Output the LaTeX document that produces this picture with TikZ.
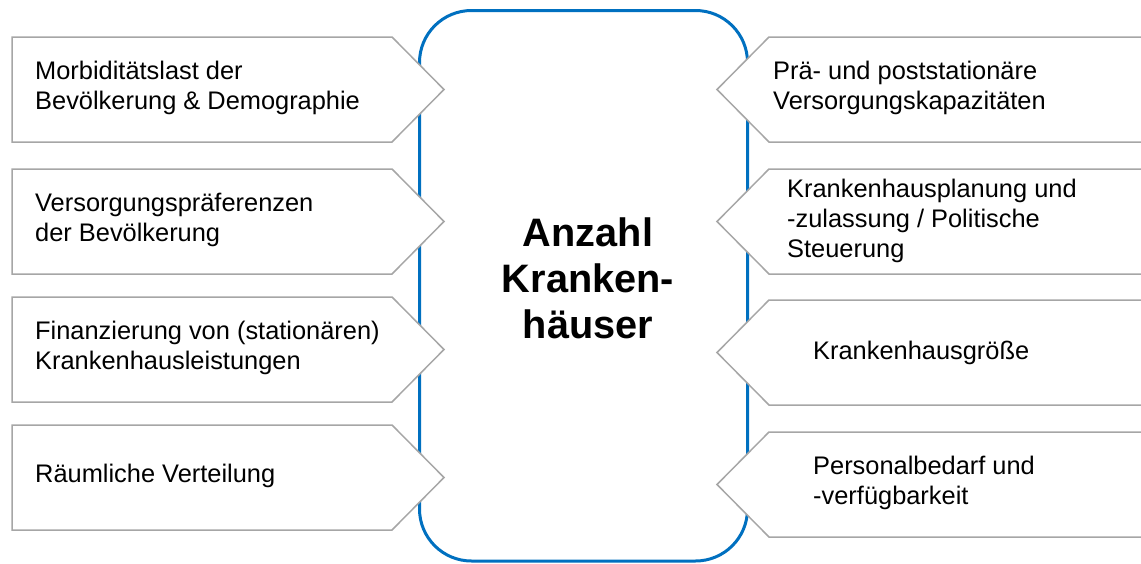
\documentclass[tikz,border=0pt]{standalone}
\usepackage{fontspec}
\setmainfont{Liberation Sans}
\definecolor{bluebox}{RGB}{0,112,192}
\definecolor{graybox}{RGB}{166,166,166}
\begin{document}
\begin{tikzpicture}[x=1pt,y=-1pt,
  arrowbox/.style={draw=graybox, line width=1.5pt, fill=white, line join=miter},
  lbl/.style={font=\fontsize{25.4}{29.7}\selectfont, align=left, anchor=west, inner sep=0pt},
  centertext/.style={font=\bfseries\fontsize{39.7}{46}\selectfont, align=center, inner sep=0pt}
]
\useasboundingbox (0,0) rectangle (1141,563);
\clip (0,0) rectangle (1141,563);
\fill[white] (0,0) rectangle (1141,563);
% central rounded box
\draw[bluebox, line width=3pt, rounded corners=52pt] (419.5,10.5) rectangle (747.5,561);
% left arrow boxes
\foreach \t in {37,169,297,425}{
  \draw[arrowbox] (12,\t) -- (392,\t) -- (444,\t+52.5) -- (392,\t+105) -- (12,\t+105) -- cycle;
}
% right arrow boxes
\foreach \t in {37,169,300,432}{
  \draw[arrowbox] (1150,\t) -- (769,\t) -- (717,\t+52.5) -- (769,\t+105) -- (1150,\t+105) -- cycle;
}
\node[centertext] (center) at (588,278) {Anzahl\\Kranken-\\häuser};
\node[lbl] (l1) at (35,88) {Morbiditätslast der\\Bevölkerung \& Demographie};
\node[lbl] (l2) at (35,220) {Versorgungspräferenzen\\der Bevölkerung};
\node[lbl] (l3) at (35,348) {Finanzierung von (stationären)\\Krankenhausleistungen};
\node[lbl] (l4) at (35,476) {Räumliche Verteilung};
\node[lbl] (r1) at (773,88) {Prä- und poststationäre\\Versorgungskapazitäten};
\node[lbl] (r2) at (787,221) {Krankenhausplanung und\\-zulassung / Politische\\Steuerung};
\node[lbl] (r3) at (813,353) {Krankenhausgröße};
\node[lbl] (r4) at (813,483) {Personalbedarf und\\-verfügbarkeit};
\end{tikzpicture}
\end{document}
